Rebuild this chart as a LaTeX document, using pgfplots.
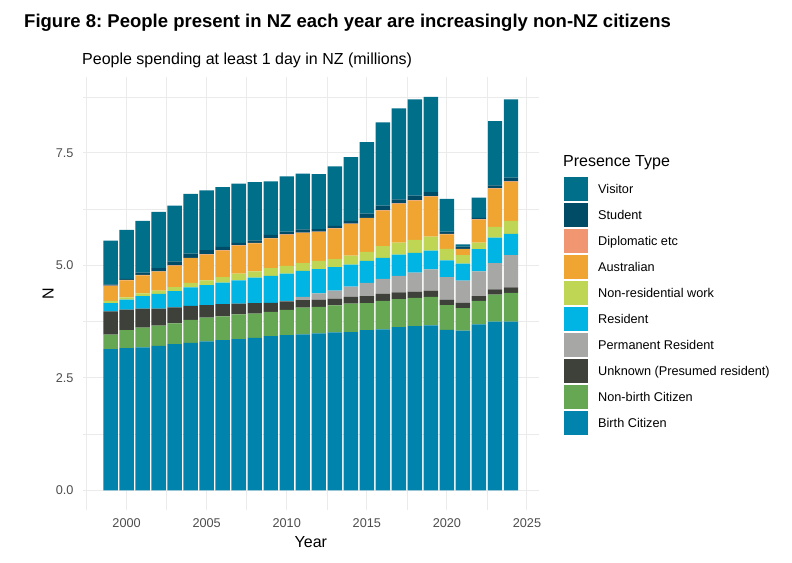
\documentclass[border=0pt]{standalone}
\usepackage{pgfplots}
\usepackage{pgfplotstable}
\pgfplotsset{compat=1.18}
\usepackage{fontspec}
\setmainfont{Liberation Sans}
\frenchspacing

\definecolor{cVis}{RGB}{0,111,138}
\definecolor{cStu}{RGB}{0,75,101}
\definecolor{cDip}{RGB}{240,150,112}
\definecolor{cAus}{RGB}{240,164,50}
\definecolor{cNrw}{RGB}{190,214,83}
\definecolor{cRes}{RGB}{0,180,228}
\definecolor{cPer}{RGB}{167,167,165}
\definecolor{cUnk}{RGB}{62,64,58}
\definecolor{cNbc}{RGB}{101,167,82}
\definecolor{cBc}{RGB}{0,131,173}
\definecolor{gridc}{RGB}{235,235,235}
\definecolor{tickc}{RGB}{77,77,77}

\pgfplotstableread{
year BC   NBC  UNK  PER  RES  NRW  AUS  DIP  STU  VIS
1999 3.14 0.32 0.52 0.00 0.18 0.05 0.33 0.01 0.03 0.97
2000 3.16 0.40 0.46 0.00 0.22 0.05 0.38 0.01 0.02 1.09
2001 3.18 0.44 0.42 0.00 0.28 0.06 0.40 0.01 0.05 1.15
2002 3.21 0.45 0.38 0.00 0.33 0.07 0.42 0.01 0.07 1.25
2003 3.25 0.46 0.36 0.00 0.36 0.09 0.47 0.01 0.09 1.24
2004 3.28 0.51 0.31 0.00 0.41 0.10 0.55 0.01 0.09 1.33
2005 3.31 0.53 0.28 0.00 0.44 0.11 0.57 0.01 0.09 1.33
2006 3.34 0.53 0.27 0.00 0.48 0.12 0.59 0.01 0.07 1.33
2007 3.36 0.55 0.24 0.00 0.52 0.15 0.62 0.01 0.05 1.32
2008 3.39 0.54 0.23 0.00 0.57 0.14 0.62 0.01 0.06 1.29
2009 3.43 0.54 0.20 0.00 0.60 0.17 0.66 0.01 0.07 1.19
2010 3.45 0.56 0.19 0.01 0.61 0.17 0.69 0.01 0.06 1.23
2011 3.47 0.59 0.17 0.07 0.58 0.17 0.67 0.01 0.07 1.24
2012 3.49 0.59 0.16 0.14 0.54 0.18 0.64 0.01 0.06 1.22
2013 3.51 0.60 0.15 0.18 0.52 0.18 0.68 0.01 0.05 1.32
2014 3.52 0.63 0.15 0.23 0.49 0.20 0.70 0.01 0.06 1.42
2015 3.56 0.60 0.16 0.29 0.49 0.20 0.75 0.01 0.09 1.59
2016 3.58 0.63 0.16 0.33 0.47 0.26 0.79 0.01 0.10 1.85
2017 3.63 0.62 0.15 0.37 0.47 0.27 0.86 0.01 0.09 2.02
2018 3.65 0.63 0.14 0.42 0.44 0.29 0.87 0.01 0.10 2.14
2019 3.67 0.63 0.14 0.47 0.42 0.31 0.89 0.01 0.09 2.12
2020 3.57 0.55 0.12 0.50 0.37 0.26 0.32 0.01 0.05 0.73
2021 3.55 0.50 0.12 0.49 0.38 0.19 0.13 0.01 0.05 0.05
2022 3.69 0.52 0.11 0.55 0.49 0.15 0.51 0.01 0.03 0.45
2023 3.75 0.60 0.12 0.58 0.57 0.24 0.85 0.01 0.06 1.43
2024 3.75 0.64 0.12 0.72 0.47 0.29 0.87 0.01 0.08 1.74
}\datatable

\begin{document}
\begin{tikzpicture}
\useasboundingbox (0,0) rectangle (792bp,563bp);
\node[anchor=base west, inner sep=0pt, font=\bfseries\fontsize{18.5bp}{22bp}\selectfont] at (24bp,535bp)
  {Figure 8: People present in NZ each year are increasingly non-NZ citizens};
\node[anchor=base west, inner sep=0pt, font=\fontsize{16bp}{19bp}\selectfont] at (82bp,498bp)
  {People spending at least 1 day in NZ (millions)};
\begin{axis}[
  at={(82.7bp,53bp)}, anchor=south west,
  scale only axis,
  width=456.3bp, height=433bp,
  ybar stacked,
  bar width=0.9,
  xmin=1997.26, xmax=2025.75,
  ymin=-0.4375, ymax=9.19,
  xtick={2000,2005,...,2025},
  minor xtick={1997.5,2002.5,2007.5,2012.5,2017.5,2022.5},
  ytick={0,2.5,5,7.5},
  yticklabels={0.0,2.5,5.0,7.5},
  minor ytick={1.25,3.75,6.25,8.75},
  /pgf/number format/assume math mode=true,
  /pgf/number format/set thousands separator={},
  xticklabel style={font=\fontsize{12.7bp}{15bp}\selectfont, text=tickc, inner sep=0pt, yshift=-8bp},
  yticklabel style={font=\fontsize{12.7bp}{15bp}\selectfont, text=tickc, inner sep=0pt, xshift=-9bp},
  major tick length=0pt, minor tick length=0pt,
  axis line style={draw=none},
  grid=both,
  major grid style={color=gridc, line width=1bp},
  minor grid style={color=gridc, line width=0.5bp},
  xlabel={Year}, ylabel={N},
  label style={font=\fontsize{16bp}{19bp}\selectfont},
  xlabel style={at={(axis description cs:0.5,-0.074)}, anchor=center, inner sep=0pt},
  ylabel style={at={(axis description cs:-0.076,0.5)}, anchor=center, inner sep=0pt},
  reverse legend,
  legend image code/.code={\fill[#1,draw=none] (0bp,-12bp) rectangle (24bp,12bp);},
  legend cell align=left,
  legend style={draw=none, fill=none, at={(1.0548,0.769)}, anchor=north west,
    inner sep=0pt, row sep=2bp, column sep=10bp,
    nodes={inner sep=0pt, font=\fontsize{12.7bp}{15bp}\selectfont}},
]
\addplot[fill=cBc, draw=none] table[x=year,y=BC] {\datatable};
\addlegendentry{Birth Citizen}
\addplot[fill=cNbc, draw=none] table[x=year,y=NBC] {\datatable};
\addlegendentry{Non-birth Citizen}
\addplot[fill=cUnk, draw=none] table[x=year,y=UNK] {\datatable};
\addlegendentry{Unknown (Presumed resident)}
\addplot[fill=cPer, draw=none] table[x=year,y=PER] {\datatable};
\addlegendentry{Permanent Resident}
\addplot[fill=cRes, draw=none] table[x=year,y=RES] {\datatable};
\addlegendentry{Resident}
\addplot[fill=cNrw, draw=none] table[x=year,y=NRW] {\datatable};
\addlegendentry{Non-residential work}
\addplot[fill=cAus, draw=none] table[x=year,y=AUS] {\datatable};
\addlegendentry{Australian}
\addplot[fill=cDip, draw=none] table[x=year,y=DIP] {\datatable};
\addlegendentry{Diplomatic etc}
\addplot[fill=cStu, draw=none] table[x=year,y=STU] {\datatable};
\addlegendentry{Student}
\addplot[fill=cVis, draw=none] table[x=year,y=VIS] {\datatable};
\addlegendentry{Visitor}
\end{axis}
\node[anchor=base west, inner sep=0pt, font=\fontsize{16bp}{19bp}\selectfont] at (563bp,396bp) {Presence Type};
\end{tikzpicture}
\end{document}
